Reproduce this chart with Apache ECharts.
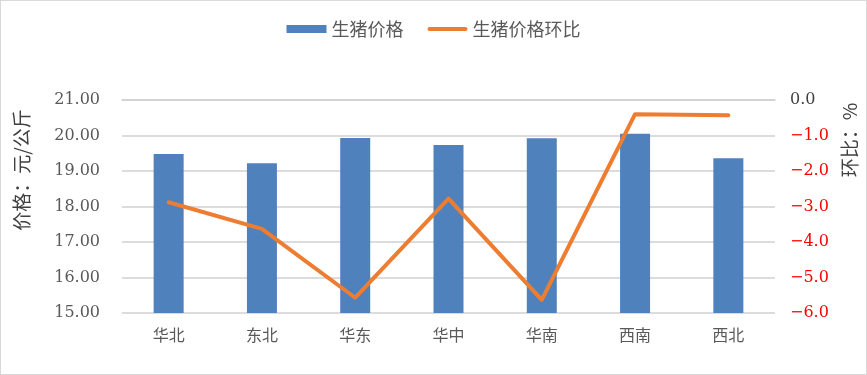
<!DOCTYPE html>
<html><head><meta charset="utf-8">
<script src="https://cdn.jsdelivr.net/npm/echarts@6/dist/echarts.min.js"></script>
<style>html,body{margin:0;padding:0;background:#fff}#c{width:867px;height:375px;box-sizing:border-box;border:1px solid #d9d9d9}</style>
</head><body><div id="c"></div>
<script>
var categories = ['华北','东北','华东','华中','华南','西南','西北'];
var priceValues = [19.48, 19.22, 19.93, 19.73, 19.92, 20.05, 19.36];
var momValues = [-2.88, -3.63, -5.57, -2.78, -5.63, -0.40, -0.43];
var leftTicks = {min: 15, max: 21, interval: 1};
var rightTicks = {min: -6, max: 0, interval: 1};

var numFont = "'DejaVu Serif', 'Noto Sans CJK SC', serif";
var cjkFont = "'Noto Sans CJK SC', sans-serif";
var chart = echarts.init(document.getElementById('c'), null, {renderer: 'canvas'});
chart.setOption({
  animation: false,
  backgroundColor: '#fff',
  legend: {
    top: 14, left: 'center', itemGap: 24, itemWidth: 40, itemHeight: 8,
    textStyle: {fontFamily: cjkFont, fontSize: 18, color: '#595959'},
    data: [{name: '生猪价格', icon: 'rect'},
           {name: '生猪价格环比', icon: 'path://M2,0 L38,0 A2,2 0 0 1 38,4 L2,4 A2,2 0 0 1 2,0 Z'}]
  },
  grid: {left: 121, right: 91, top: 99, bottom: 61},
  xAxis: {
    type: 'category', data: categories,
    axisLine: {lineStyle: {color: '#d0d0d0', width: 1.5}},
    axisTick: {show: false},
    axisLabel: {fontFamily: cjkFont, fontSize: 16, color: '#595959', margin: 14}
  },
  yAxis: [{
    type: 'value', min: leftTicks.min, max: leftTicks.max, interval: leftTicks.interval,
    axisLine: {show: false}, axisTick: {show: false},
    splitLine: {lineStyle: {color: '#d0d0d0', width: 1.5}},
    axisLabel: {fontFamily: numFont, fontSize: 16, color: '#595959', margin: 22,
      formatter: function (v) { return v.toFixed(2); }}
  }, {
    type: 'value', min: rightTicks.min, max: rightTicks.max, interval: rightTicks.interval,
    axisLine: {show: false}, axisTick: {show: false}, splitLine: {show: false},
    axisLabel: {fontFamily: numFont, fontSize: 16, margin: 15,
      formatter: function (v) { return v === 0 ? '{z|0.0}' : '{n|\u2212' + Math.abs(v).toFixed(1) + '}'; },
      rich: {z: {color: '#404040', fontFamily: numFont, fontSize: 16}, n: {color: '#ff0000', fontFamily: numFont, fontSize: 16}}}
  }],
  graphic: [{
    type: 'text', x: 21, y: 169, rotation: Math.PI / 2,
    style: {text: '价格：元/公斤', fontFamily: cjkFont, fontSize: 19, fill: '#404040', align: 'center', verticalAlign: 'middle'}
  }, {
    type: 'text', x: 849, y: 139, rotation: Math.PI / 2,
    style: {text: '环比：%', fontFamily: cjkFont, fontSize: 19, fill: '#404040', align: 'center', verticalAlign: 'middle'}
  }],
  series: [{
    name: '生猪价格', type: 'bar', data: priceValues, barWidth: 30,
    itemStyle: {color: '#4f81bd'}
  }, {
    name: '生猪价格环比', type: 'line', yAxisIndex: 1, data: momValues,
    symbol: 'none', lineStyle: {color: '#ed7d31', width: 4, cap: 'round', join: 'round'},
    itemStyle: {color: '#ed7d31'}
  }]
});
</script></body></html>
